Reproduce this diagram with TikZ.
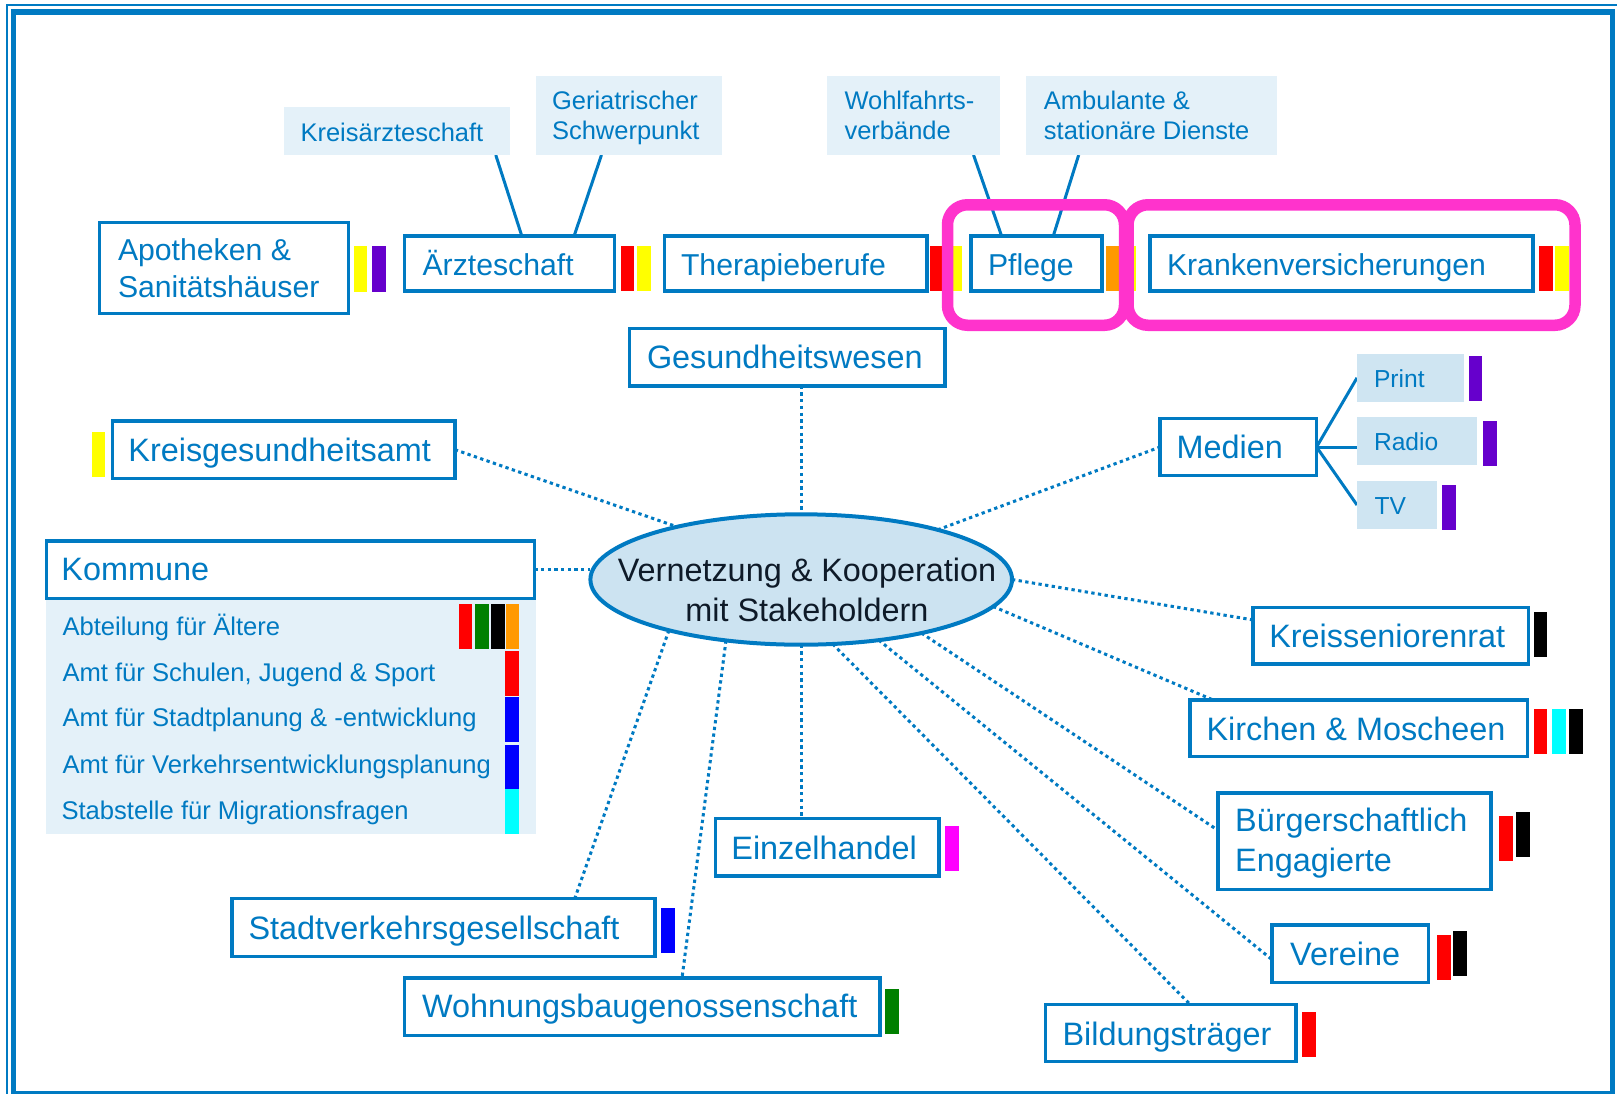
\documentclass[tikz,border=0pt]{standalone}
\usepackage{fontspec}
\setmainfont{Liberation Sans}
\usetikzlibrary{calc,shapes.geometric}
\definecolor{mb}{RGB}{0,122,194}
\definecolor{lfill}{RGB}{228,241,249}
\definecolor{mfill}{RGB}{207,229,242}
\definecolor{efill}{RGB}{204,227,241}
\definecolor{pk}{RGB}{255,51,204}
\definecolor{pu}{RGB}{102,0,204}
\definecolor{gr}{RGB}{0,128,0}
\definecolor{org}{RGB}{255,153,0}
\definecolor{navy}{RGB}{14,26,40}
\definecolor{ye}{RGB}{255,255,0}
\definecolor{rd}{RGB}{255,0,0}
\definecolor{bl}{RGB}{0,0,255}
\definecolor{cy}{RGB}{0,255,255}
\definecolor{mg}{RGB}{255,0,255}
\definecolor{bk}{RGB}{0,0,0}
\pgfdeclarelayer{bg}
\pgfsetlayers{bg,main}
% bordered box from outer edges
\newcommand\BX[6]{\node[#1, minimum width={#5-#3-3.5}, minimum height={#6-#4-3.5}] (#2) at ({(#3+#5)/2},{(#4+#6)/2}) {};}
% fill-only box
\newcommand\FB[6]{\node[#1, minimum width={#5-#3}, minimum height={#6-#4}] (#2) at ({(#3+#5)/2},{(#4+#6)/2}) {};}
\newcommand\BAR[5]{\fill[#1] (#2,#3) rectangle (#4,#5);}
\newcommand\twol[2]{\begin{tabular}[t]{@{}l@{}}#1\\#2\end{tabular}}
\newcommand\twoc[2]{\begin{tabular}[t]{@{}c@{}}#1\\#2\end{tabular}}
\begin{document}
\begin{tikzpicture}[x=1pt,y=-1pt,
  box/.style={rectangle, draw=mb, line width=3.5pt, fill=white, inner sep=0pt, outer sep=0pt},
  sbox/.style={rectangle, fill=lfill, inner sep=0pt, outer sep=0pt},
  mbox/.style={rectangle, fill=mfill, inner sep=0pt, outer sep=0pt},
  ell/.style={ellipse, draw=mb, line width=4pt, fill=efill, inner sep=0pt, outer sep=0pt,
              minimum width=421.6, minimum height=130.4},
  txt/.style={inner sep=0pt, outer sep=0pt, anchor=base west, text=mb},
  bigt/.style={txt, font=\fontsize{32.4}{40}\selectfont},
  topt/.style={txt, font=\fontsize{30.2}{37.7}\selectfont},
  smt/.style={txt, font=\fontsize{25.5}{30}\selectfont},
  lst/.style={txt, font=\fontsize{25.6}{30}\selectfont},
  medt/.style={txt, font=\fontsize{24.6}{30}\selectfont},
  ctxt/.style={inner sep=0pt, outer sep=0pt, anchor=base, text=navy, font=\fontsize{32.4}{40}\selectfont},
  dotc/.style={draw=mb, line width=3pt, dash pattern=on 3.3pt off 3.4pt},
  solc/.style={draw=mb, line width=3pt},
  pinkr/.style={draw=pk, line width=11.5pt, rounded corners=20pt}
]
\useasboundingbox (0,0) rectangle (1617,1093);
% frame
\draw[mb, line width=2pt] (7,5) rectangle (1622,1102);
\draw[mb, line width=5.5pt] (13.5,12) rectangle (1612.7,1093.5);

% small top boxes
\FB{sbox}{ka}{284}{107}{510}{155}
\FB{sbox}{ger}{536}{76}{722}{155}
\FB{sbox}{wohl}{827.1}{76}{999.6}{155}
\FB{sbox}{amb}{1026.2}{76}{1277.3}{155}
\node[smt] (ka-t) at (300.5,141.7) {Kreisärzteschaft};
\node[smt] (ger-t) at (552,109) {\twol{Geriatrischer}{Schwerpunkt}};
\node[smt] (wohl-t) at (844.5,109) {\twol{Wohlfahrts-}{verbände}};
\node[smt] (amb-t) at (1043.9,109) {\twol{Ambulante \&}{stationäre Dienste}};

% Kommune list background
\FB{sbox}{koml}{45.5}{600}{536}{834.3}

% main boxes
\BX{box}{apo}{97.8}{220.7}{350.4}{315}
\BX{box}{arz}{402.7}{234}{616}{292.7}
\BX{box}{ther}{662.7}{234}{928.7}{292.7}
\BX{box}{pfl}{969.4}{234}{1103.8}{292.7}
\BX{box}{kv}{1148}{234}{1534.8}{292.7}
\BX{box}{gw}{627.6}{326.7}{946.7}{387.5}
\BX{box}{kga}{110.9}{419.3}{456.6}{480}
\BX{box}{kom}{44.5}{539.3}{536}{600}
\BX{box}{med}{1158.3}{416.7}{1318.3}{477.3}
\BX{box}{ks}{1251}{605.7}{1530}{665.7}
\BX{box}{kir}{1188.3}{698.3}{1529}{758.3}
\BX{box}{bue}{1216.4}{791}{1492.7}{891}
\BX{box}{ver}{1270}{923}{1430}{984.3}
\BX{box}{bil}{1043.7}{1002.7}{1297.5}{1063.3}
\BX{box}{ez}{713.9}{816.7}{940.6}{877.7}
\BX{box}{svg}{230}{896.7}{656.5}{958.3}
\BX{box}{wbg}{402.7}{976}{881.5}{1037.3}

% texts of main boxes
\node[topt] (apo-t) at (118,260) {\twol{Apotheken \&}{Sanitätshäuser}};
\node[topt] (arz-t) at (422.6,275) {Ärzteschaft};
\node[topt] (ther-t) at (681,275) {Therapieberufe};
\node[topt] (pfl-t) at (988,275) {Pflege};
\node[topt] (kv-t) at (1167,275) {Krankenversicherungen};
\node[bigt] (gw-t) at (647,368.2) {Gesundheitswesen};
\node[bigt] (kga-t) at (128.4,461) {Kreisgesundheitsamt};
\node[bigt] (kom-t) at (61.4,580) {Kommune};
\node[bigt] (med-t) at (1176.6,458.3) {Medien};
\node[bigt] (ks-t) at (1269.3,647.3) {Kreisseniorenrat};
\node[bigt] (kir-t) at (1206.6,740) {Kirchen \& Moscheen};
\node[bigt] (bue-t) at (1235.2,831.7) {\twol{Bürgerschaftlich}{Engagierte}};
\node[bigt] (ver-t) at (1290.2,965.7) {Vereine};
\node[bigt] (bil-t) at (1062.5,1045) {Bildungsträger};
\node[bigt] (ez-t) at (731.4,859) {Einzelhandel};
\node[bigt] (svg-t) at (248.5,939.3) {Stadtverkehrsgesellschaft};
\node[bigt] (wbg-t) at (422,1017.7) {Wohnungsbaugenossenschaft};

% Kommune list
\node[lst] (l1) at (62.5,635) {Abteilung für Ältere};
\node[lst] (l2) at (62.5,681) {Amt für Schulen, Jugend \& Sport};
\node[lst] (l3) at (62.5,726.7) {Amt für Stadtplanung \& -entwicklung};
\node[lst] (l4) at (62.5,773.3) {Amt für Verkehrsentwicklungsplanung};
\node[lst] (l5) at (61.5,819.3) {Stabstelle für Migrationsfragen};

% Medien sub boxes
\FB{mbox}{pr}{1357}{354}{1463.7}{401.7}
\FB{mbox}{rad}{1357}{417.3}{1476.7}{465}
\FB{mbox}{tv}{1357}{481.3}{1436.7}{528.7}
\node[medt] (pr-t) at (1374,387.7) {Print};
\node[medt] (rad-t) at (1374,450.7) {Radio};
\node[medt] (tv-t) at (1374.5,514) {TV};

% central ellipse
\node[ell] (c) at (801.2,579.5) {};
\node[ctxt] (c-t) at (807,581.7) {\twoc{Vernetzung \& Kooperation}{mit Stakeholdern}};

% connectors
\begin{pgfonlayer}{bg}
\draw[dotc] (kga.east) -- (c.157.45);
\draw[dotc] (c.north |- gw.south) -- (c.north);
\draw[dotc] (c.20.2) -- (med.west);
\draw[dotc] (kom.east) -- (kom.east -| c.west);
\draw[dotc] (c.east) -- ($(ks.north west)!0.22!(ks.south west)$);
\draw[dotc] (c.352.14) -- ($(kir.north west)!0.069!(kir.north east)$);
\draw[dotc] (c.336.53) -- ($(bue.north west)!0.39!(bue.south west)$);
\draw[dotc] (c.322.2) -- ($(ver.north west)!0.6!(ver.south west)$);
\draw[dotc] (c.296.8) -- ($(bil.north west)!0.578!(bil.north east)$);
\draw[dotc] (c.south) -- (c.south |- ez.north);
\draw[dotc] (c.219.2) -- ($(wbg.north west)!0.584!(wbg.north east)$);
\draw[dotc] (c.201.9) -- ($(svg.north west)!0.811!(svg.north east)$);
\draw[solc] ($(ka.south west)!0.937!(ka.south east)$) -- ($(arz.north west)!0.559!(arz.north east)$);
\draw[solc] ($(ger.south west)!0.352!(ger.south east)$) -- ($(arz.north west)!0.809!(arz.north east)$);
\draw[solc] ($(wohl.south west)!0.849!(wohl.south east)$) -- ($(pfl.north west)!0.232!(pfl.north east)$);
\draw[solc] ($(amb.south west)!0.209!(amb.south east)$) -- ($(pfl.north west)!0.628!(pfl.north east)$);
\draw[solc] (med.east) -- (pr.west);
\draw[solc] (med.east) -- (med.east -| rad.west);
\draw[solc] (med.east) -- (tv.west);
\end{pgfonlayer}

% colour bars
\BAR{ye}{353.6}{246}{367.2}{291.7}
\BAR{pu}{371.9}{246}{386}{291.7}
\BAR{rd}{620.8}{246}{634.4}{291}
\BAR{ye}{637}{246}{650.6}{291}
\BAR{rd}{930.3}{245.5}{943.9}{290.5}
\BAR{ye}{948}{245.5}{962}{290.5}
\BAR{org}{1106.4}{246}{1120}{291}
\BAR{ye}{1122.5}{246}{1136.1}{291}
\BAR{rd}{1539}{246}{1552.5}{291}
\BAR{ye}{1555}{246}{1568.6}{291}
\BAR{ye}{91.5}{432.3}{104.6}{476.7}
\BAR{rd}{458.7}{604}{472.3}{648.7}
\BAR{gr}{474.9}{604}{488.5}{648.7}
\BAR{bk}{491.1}{604}{504.7}{648.7}
\BAR{org}{506.3}{604}{518.8}{648.7}
\BAR{rd}{505.2}{651}{518.8}{696}
\BAR{bl}{505.2}{697}{518.8}{742.3}
\BAR{bl}{505.2}{745}{518.8}{789}
\BAR{cy}{505.2}{789}{518.8}{834.3}
\BAR{pu}{1468.7}{356}{1482}{401}
\BAR{pu}{1483.3}{421}{1497}{466}
\BAR{pu}{1442.3}{485.3}{1455.7}{530}
\BAR{bk}{1534}{611.7}{1547.3}{656.7}
\BAR{rd}{1534}{709.3}{1547.3}{754.3}
\BAR{cy}{1552.3}{709.3}{1565.7}{754.3}
\BAR{bk}{1569.3}{709.3}{1583}{754.3}
\BAR{rd}{1499}{816}{1512.8}{861}
\BAR{bk}{1516}{811.7}{1529.7}{856.7}
\BAR{rd}{1436.8}{935.3}{1450.6}{980}
\BAR{bk}{1453.3}{930.7}{1467}{975.7}
\BAR{rd}{1302.2}{1012.3}{1315.6}{1056.7}
\BAR{mg}{945.2}{826}{959}{871}
\BAR{bl}{661}{908.3}{674.8}{953.3}
\BAR{gr}{885}{989}{898.7}{1034}

% pink highlight frames
\draw[pinkr] (947.5,204.75) rectangle (1124.5,325.25);
\draw[pinkr] (1128,204.75) rectangle (1575,325.25);
\end{tikzpicture}
\end{document}
